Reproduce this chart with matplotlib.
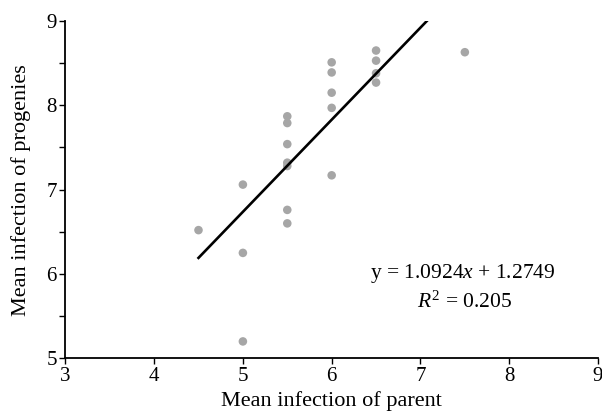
import matplotlib.pyplot as plt
from matplotlib.ticker import MultipleLocator

plt.rcParams['font.family'] = ['Liberation Serif', 'DejaVu Serif']
plt.rcParams['mathtext.fontset'] = 'custom'
plt.rcParams['mathtext.rm'] = 'Liberation Serif'
plt.rcParams['mathtext.it'] = 'Liberation Serif:italic'

# parent vs progeny means
parent = [4.5, 5.0, 5.0, 5.0,
          5.5, 5.5, 5.5, 5.5, 5.5, 5.5, 5.5,
          6.0, 6.0, 6.0, 6.0, 6.0,
          6.5, 6.5, 6.5, 6.5,
          7.5]
progeny = [6.52, 7.06, 6.25, 5.20,
           7.87, 7.79, 7.54, 7.32, 7.28, 6.76, 6.60,
           8.51, 8.39, 8.15, 7.97, 7.17,
           8.65, 8.53, 8.38, 8.27,
           8.63]

slope = 1.0924
intercept = 1.2749
r2 = 0.205
fit_x = [4.5, 7.5]
fit_y = [slope * v + intercept for v in fit_x]

fig = plt.figure(figsize=(6.02, 4.17), dpi=100)
ax = fig.add_axes([0.1085, 0.1408, 0.8849, 0.8088])

ax.scatter(parent, progeny, s=38, color='#a6a6a6', edgecolors='none', zorder=2)
ax.plot(fit_x, fit_y, color='black', lw=1.9, zorder=3)

ax.set_xlim(3, 9)
ax.set_ylim(5, 9)
ax.xaxis.set_major_locator(MultipleLocator(1))
ax.yaxis.set_major_locator(MultipleLocator(1))
ax.yaxis.set_minor_locator(MultipleLocator(0.5))

for s in ['top', 'right']:
    ax.spines[s].set_visible(False)
for s in ['left', 'bottom']:
    ax.spines[s].set_linewidth(1.3)

ax.tick_params(axis='both', which='major', direction='out', length=4, width=1.0,
               labelsize=15, pad=2)
ax.tick_params(axis='y', which='minor', direction='out', length=4, width=1.0)

ax.set_xlabel('Mean infection of parent', fontsize=16, labelpad=4)
ax.set_ylabel('Mean infection of progenies', fontsize=16, labelpad=11)

ax.text(7.48, 6.0, 'y = %.4f$x$ + %.4f' % (slope, intercept), fontsize=15.5,
        ha='center', va='center')
ax.text(7.5, 5.66, '$R^2$ = %.3f' % r2, fontsize=15.5, ha='center', va='center')

fig.savefig('out.png', dpi=100)
